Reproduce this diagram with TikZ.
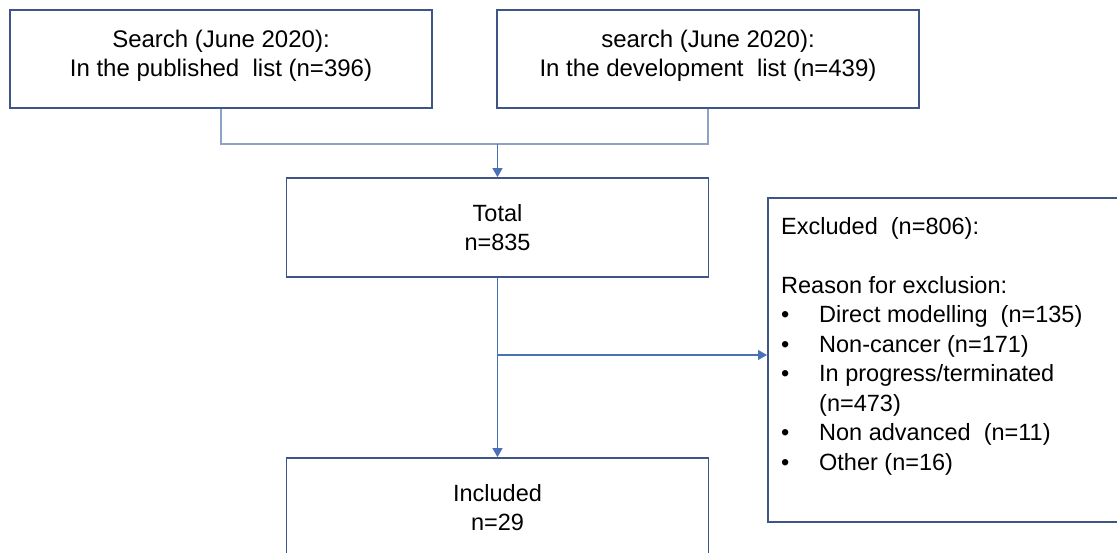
\documentclass[tikz,border=0pt]{standalone}
\usepackage{fontspec}
\setmainfont{Liberation Sans}
\usetikzlibrary{arrows.meta}
\definecolor{boxedge}{HTML}{3F5587}
\definecolor{arrowline}{HTML}{4A70B8}
\definecolor{joinline}{HTML}{8CA3C8}
% one bulleted entry of the exclusion list, and a continuation line
\newcommand{\bulletrow}[1]{\makebox[38pt][l]{\textbullet}#1}
\newcommand{\hangrow}[1]{\makebox[38pt][l]{}#1}

\begin{document}
\begin{tikzpicture}[x=1pt,y=-1pt,
  stage/.style={draw=boxedge, line width=1.8pt, rectangle, inner sep=0pt,
    minimum width=422pt, align=center},
  toptext/.style={font=\fontsize{24}{29}\selectfont},
  midtext/.style={font=\fontsize{23.5}{29.5}\selectfont},
  mergeline/.style={draw=joinline, line width=1.1pt},
  flow/.style={draw=arrowline, line width=1.1pt, -{Triangle[width=10pt,length=9pt]}}]
\useasboundingbox (0,0) rectangle (1117,553);
\clip (0,0) rectangle (1117,553);

% search sources
\node[stage, toptext, minimum height=98pt, text depth=12pt] (pub) at (221,59)
  {Search (June 2020):\\In the published~ list (n=396)};
\node[stage, toptext, minimum height=98pt, text depth=12pt] (dev) at (708,59)
  {search (June 2020):\\In the development~ list (n=439)};

% pooled and retained records
\node[stage, midtext, minimum height=99pt] (total) at (497.5,227.5) {Total\\n=835};
\node[stage, midtext, minimum height=99pt] (incl) at (497.5,507.5) {Included\\n=29};

% exclusions
\node[draw=boxedge, line width=1.8pt, rectangle, inner sep=0pt,
  minimum width=380pt, minimum height=324pt, anchor=north west] (excl) at (767,197) {};
\node[midtext, align=left, inner sep=0pt, anchor=north west] (excltxt) at (781,217)
  {Excluded~ (n=806):\\[29.5pt]
   Reason for exclusion:\\
   \bulletrow{Direct modelling~ (n=135)}\\
   \bulletrow{Non-cancer (n=171)}\\
   \bulletrow{In progress/terminated}\\
   \hangrow{(n=473)}\\
   \bulletrow{Non advanced~ (n=11)}\\
   \bulletrow{Other (n=16)}};

% connectors
\coordinate (merge) at (497.5,144);
\coordinate (branch) at (497.5,355);
\draw[mergeline] (pub.south) |- (merge) -| (dev.south);
\draw[flow] (merge) -- (total.north);
\draw[flow] (total.south) -- (incl.north);
\draw[flow] (branch) -- (branch -| excl.west);
\end{tikzpicture}
\end{document}
